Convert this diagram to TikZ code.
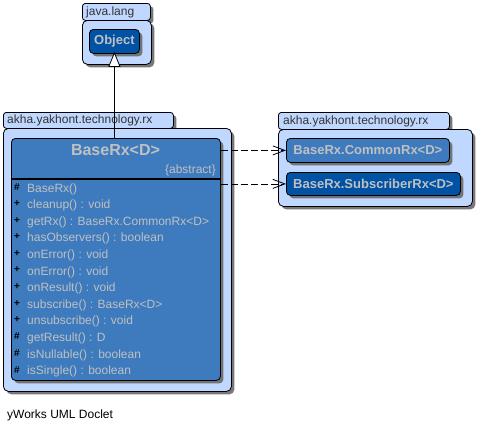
\documentclass[tikz,border=0pt]{standalone}
\usepackage{fontspec}
\setmainfont{Liberation Sans}
\usetikzlibrary{arrows.meta,shadows}
\definecolor{pkgfill}{RGB}{192,216,255}
\definecolor{clsfill}{RGB}{61,123,190}
\definecolor{darkcls}{RGB}{0,82,164}
\definecolor{txtgray}{RGB}{192,192,192}
\definecolor{shadowgray}{RGB}{105,105,105}
\begin{document}
\begin{tikzpicture}[x=1pt,y=-1pt,
  shd/.style={drop shadow={shadow xshift=3pt,shadow yshift=-3pt,fill=shadowgray,opacity=0.9}},
  pkgtab/.style={draw=black,line width=0.8pt,fill=pkgfill,rounded corners=3pt,shd,anchor=north west,inner sep=0pt},
  pkgbody/.style={draw=black,line width=0.8pt,fill=pkgfill,rounded corners=5pt,shd,anchor=north west,inner sep=0pt},
  pkglabel/.style={anchor=west,inner sep=0pt,text=black!80,font=\fontsize{12}{14}\selectfont},
  clsbox/.style={draw=black,line width=0.8pt,rounded corners=4pt,shd,anchor=north west,inner sep=0pt,text=txtgray,font=\bfseries\fontsize{13}{15}\selectfont},
  member/.style={anchor=west,inner sep=0pt,text=txtgray,font=\fontsize{12}{14}\selectfont},
  vis/.style={inner sep=0pt,text=black,font=\bfseries\fontsize{10}{12}\selectfont},
  inherit/.style={draw=black,line width=0.8pt,-{Triangle[open,fill=white,length=15pt,width=12pt]}},
  dep/.style={draw=black,line width=0.8pt,dash pattern=on 7pt off 3pt,-{Straight Barb[length=12pt,width=9pt]}}
]
\useasboundingbox (0,0) rectangle (477,432);

% java.lang package
\node[pkgtab,minimum width=68,minimum height=17] (jtab) at (82,3) {};
\node[pkgbody,minimum width=69,minimum height=44] (jbody) at (82,20) {};
\node[pkglabel] (jlbl) at (86,12) {java.lang};
\node[clsbox,fill=darkcls,minimum width=50,minimum height=24] (obj) at (89,29) {Object};

% left package
\node[pkgtab,minimum width=170,minimum height=16] (ltab) at (3,112) {};
\node[pkgbody,minimum width=228,minimum height=263] (lbody) at (3,128) {};
\node[pkglabel] (llbl) at (7,120) {akha.yakhont.technology.rx};

% right package
\node[pkgtab,minimum width=171,minimum height=17] (rtab) at (278,112) {};
\node[pkgbody,minimum width=194,minimum height=77] (rbody) at (278,129) {};
\node[pkglabel] (rlbl) at (283,121) {akha.yakhont.technology.rx};
\node[clsbox,fill=clsfill,minimum width=163,minimum height=24] (common) at (286,138) {BaseRx.CommonRx<D>};
\node[clsbox,fill=darkcls,minimum width=174,minimum height=23] (subs) at (286,172) {BaseRx.SubscriberRx<D>};

% BaseRx class
\node[clsbox,fill=clsfill,minimum width=209,minimum height=242] (base) at (11,138) {};
\node[inner sep=0pt,text=txtgray,font=\bfseries\fontsize{16}{18}\selectfont] (title) at (115.5,150) {BaseRx<D>};
\node[anchor=east,inner sep=0pt,text=txtgray,font=\fontsize{12}{14}\selectfont] (abs) at (216,170) {\{abstract\}};
\coordinate (sepL) at (11,179);
\coordinate (sepR) at (220,179);
\draw[line width=1.8pt] (sepL) -- (sepR);

\foreach \s/\t [count=\i from 0] in {
  \#/BaseRx(),
  +/cleanup() : void,
  +/getRx() : BaseRx.CommonRx<D>,
  +/hasObservers() : boolean,
  +/onError() : void,
  +/onError() : void,
  +/onResult() : void,
  +/subscribe() : BaseRx<D>,
  +/unsubscribe() : void,
  \#/getResult() : D,
  \#/isNullable() : boolean,
  \#/isSingle() : boolean}{
  \node[vis] (v\i) at (17,{187+16.6*\i}) {\s};
  \node[member] (m\i) at (27,{189+16.6*\i}) {\t};
}

% footer
\node[anchor=west,inner sep=0pt,text=black,font=\fontsize{12}{14}\selectfont] (foot) at (7,415) {yWorks UML Doclet};

% connectors
\draw[inherit] (base.north -| obj.south) -- ([yshift=2pt]obj.south);
\draw[dep] (common.west -| base.east) -- (common.west);
\draw[dep] (subs.west -| base.east) -- (subs.west);
\end{tikzpicture}
\end{document}
